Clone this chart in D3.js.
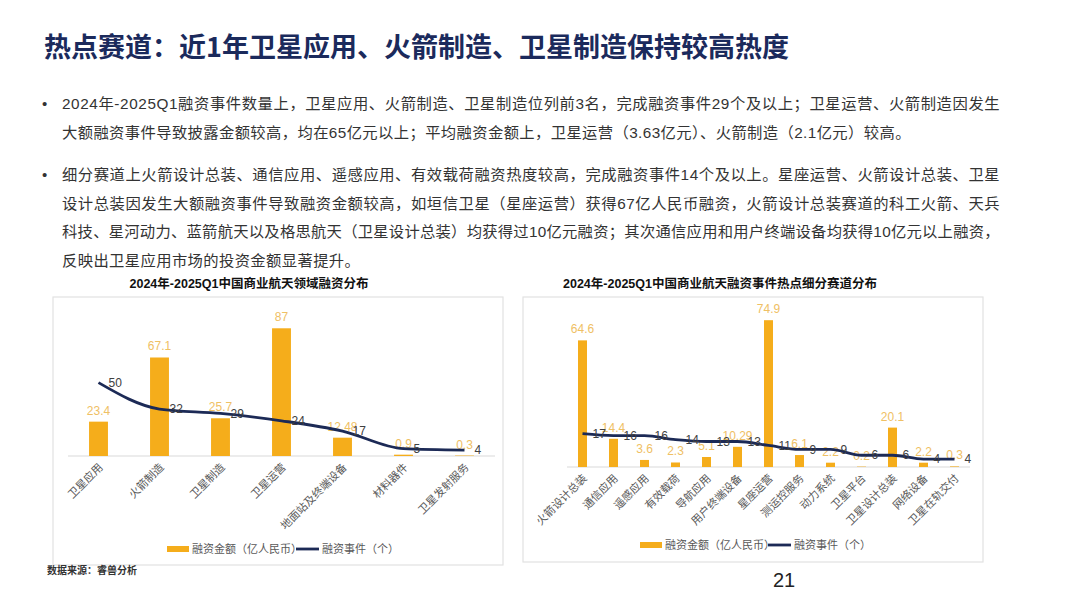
<!DOCTYPE html>
<html><head><meta charset="utf-8">
<script src="https://cdn.jsdelivr.net/npm/d3@7/dist/d3.min.js"></script>
<style>
html,body{margin:0;padding:0;background:#fff;}
svg{display:block;font-family:"Liberation Sans","Noto Sans CJK SC",sans-serif;}
</style></head>
<body>
<svg id="c" width="1080" height="608"></svg>
<script>
// ---------- data ----------
const titleText = "热点赛道：近1年卫星应用、火箭制造、卫星制造保持较高热度";
const bullet1 = [
  "2024年-2025Q1融资事件数量上，卫星应用、火箭制造、卫星制造位列前3名，完成融资事件29个及以上；卫星运营、火箭制造因发生",
  "大额融资事件导致披露金额较高，均在65亿元以上；平均融资金额上，卫星运营（3.63亿元）、火箭制造（2.1亿元）较高。"
];
const bullet2 = [
  "细分赛道上火箭设计总装、通信应用、遥感应用、有效载荷融资热度较高，完成融资事件14个及以上。星座运营、火箭设计总装、卫星",
  "设计总装因发生大额融资事件导致融资金额较高，如垣信卫星（星座运营）获得67亿人民币融资，火箭设计总装赛道的科工火箭、天兵",
  "科技、星河动力、蓝箭航天以及格思航天（卫星设计总装）均获得过10亿元融资；其次通信应用和用户终端设备均获得10亿元以上融资，",
  "反映出卫星应用市场的投资金额显著提升。"
];

const leftTitle = "2024年-2025Q1中国商业航天领域融资分布";
const leftCats = ["卫星应用","火箭制造","卫星制造","卫星运营","地面站及终端设备","材料器件","卫星发射服务"];
const leftAmount = [23.4, 67.1, 25.7, 87, 12.48, 0.9, 0.3];
const leftEvents = [50, 32, 29, 24, 17, 5, 4];

const rightTitle = "2024年-2025Q1中国商业航天融资事件热点细分赛道分布";
const rightCats = ["火箭设计总装","通信应用","遥感应用","有效载荷","导航应用","用户终端设备","星座运营","测运控服务","动力系统","卫星平台","卫星设计总装","网络设备","卫星在轨交付"];
const rightAmount = [64.6, 14.4, 3.6, 2.3, 5.1, 10.29, 74.9, 6.1, 2.2, 0.2, 20.1, 2.2, 0.3];
const rightEvents = [17, 16, 16, 14, 13, 13, 11, 9, 9, 6, 6, 4, 4];

const legendNames = ["融资金额（亿人民币）", "融资事件（个）"];
const sourceText = "数据来源：睿兽分析";
const pageNum = "21";

// ---------- styles ----------
const BAR = "#F5AD1B", LINE = "#1C2A56", BARLBL = "#EFC064", LINELBL = "#404040", AXTXT = "#595959";

const svg = d3.select("#c");

// title
svg.append("text").attr("x", 44).attr("y", 57)
  .attr("font-family", "'Noto Sans CJK SC',sans-serif").attr("font-weight", 700)
  .attr("font-size", 27).attr("fill", "#1B2A5C").text(titleText);

// bullets
function drawBullet(lines, y0, fullCount) {
  svg.append("text").attr("x", 42).attr("y", y0).attr("font-size", 15).attr("fill", "#333").text("•");
  lines.forEach((t, i) => {
    const tx = svg.append("text").attr("x", 62).attr("y", y0 + i * 28.5)
      .attr("font-size", 15.3).attr("fill", "#333").attr("letter-spacing", 0.4)
      .attr("font-family", "'Liberation Sans','Noto Sans CJK SC',sans-serif").text(t);
    if (i < fullCount) tx.attr("textLength", 938).attr("lengthAdjust", "spacing");
  });
}
drawBullet(bullet1, 109, 1);
drawBullet(bullet2, 180, 3);

// chart function
function chart(cfg) {
  const g = svg.append("g");
  g.append("rect").attr("x", cfg.box[0]).attr("y", cfg.box[1])
    .attr("width", cfg.box[2]).attr("height", cfg.box[3])
    .attr("fill", "none").attr("stroke", "#e2e2e2").attr("stroke-width", 1.2);
  g.append("text").attr("x", cfg.titleX).attr("y", 288).attr("text-anchor", "middle")
    .attr("font-size", 12.5).attr("font-weight", 700).attr("fill", "#111")
    .attr("font-family", "'Liberation Sans','Noto Sans CJK SC',sans-serif").text(cfg.title);

  const x = d3.scaleBand().domain(cfg.cats).range(cfg.xr).paddingInner(cfg.pad).paddingOuter(cfg.pad / 2);
  const y = d3.scaleLinear().domain([0, cfg.ymax]).range([cfg.base, cfg.base - cfg.ymax * cfg.ppu]);
  const cx = d => x(d) + x.bandwidth() / 2;

  const ax = g.append("g").attr("transform", `translate(0,${cfg.base})`)
    .call(d3.axisBottom(x).tickSize(0).tickFormat(""));
  ax.select(".domain").attr("stroke", "#d9d9d9").attr("d", `M${cfg.xr[0]},0H${cfg.xr[1]}`);

  cfg.cats.forEach(c => {
    g.append("text").attr("transform", `translate(${cx(c) + 5},${cfg.base + 12}) rotate(-45)`)
      .attr("text-anchor", "end").attr("font-size", 11).attr("fill", AXTXT)
      .attr("font-family", "'Noto Sans CJK SC',sans-serif").text(c);
  });

  g.selectAll(".bar").data(cfg.amount).join("rect")
    .attr("x", (d, i) => x(cfg.cats[i])).attr("width", x.bandwidth())
    .attr("y", d => y(d)).attr("height", d => cfg.base - y(d)).attr("fill", BAR);
  g.selectAll(".blbl").data(cfg.amount).join("text")
    .attr("x", (d, i) => cx(cfg.cats[i])).attr("y", d => y(d) - 7)
    .attr("text-anchor", "middle").attr("font-size", 12).attr("fill", BARLBL).text(d => d);

  const line = d3.line().x((d, i) => cx(cfg.cats[i])).y(d => y(d)).curve(d3.curveMonotoneX);
  g.append("path").datum(cfg.events).attr("d", line).attr("fill", "none")
    .attr("stroke", LINE).attr("stroke-width", 2.8).attr("stroke-linejoin", "round");
  g.selectAll(".llbl").data(cfg.events).join("text")
    .attr("x", (d, i) => cx(cfg.cats[i]) + 10).attr("y", d => y(d)).attr("dy", "0.35em")
    .attr("font-size", 12).attr("fill", LINELBL).text(d => d);

  const L = cfg.legend;
  g.append("rect").attr("x", L[0]).attr("y", L[2] - 3).attr("width", 22).attr("height", 6).attr("fill", BAR);
  g.append("text").attr("x", L[0] + 25).attr("y", L[2]).attr("dy", "0.35em").attr("font-size", 11)
    .attr("fill", AXTXT).attr("font-family", "'Noto Sans CJK SC',sans-serif").text(legendNames[0]);
  g.append("line").attr("x1", L[1]).attr("x2", L[1] + 23).attr("y1", L[2]).attr("y2", L[2])
    .attr("stroke", LINE).attr("stroke-width", 2.8);
  g.append("text").attr("x", L[1] + 26).attr("y", L[2]).attr("dy", "0.35em").attr("font-size", 11)
    .attr("fill", AXTXT).attr("font-family", "'Noto Sans CJK SC',sans-serif").text(legendNames[1]);
}

chart({
  box: [53, 297, 450, 268], title: leftTitle, titleX: 249,
  cats: leftCats, amount: leftAmount, events: leftEvents,
  xr: [68, 495], pad: 0.69, base: 456, ymax: 100, ppu: 1.468,
  legend: [167, 296, 549]
});
chart({
  box: [523, 297, 460, 265], title: rightTitle, titleX: 720,
  cats: rightCats, amount: rightAmount, events: rightEvents,
  xr: [567, 970], pad: 0.71, base: 467, ymax: 80, ppu: 1.96,
  legend: [640, 768, 545]
});

svg.append("text").attr("x", 47).attr("y", 574).attr("font-size", 10).attr("font-weight", 700)
  .attr("fill", "#333").attr("font-family", "'Noto Sans CJK SC',sans-serif").text(sourceText);
svg.append("text").attr("x", 784).attr("y", 587).attr("text-anchor", "middle").attr("font-size", 20)
  .attr("fill", "#222").text(pageNum);
</script>
</body></html>
